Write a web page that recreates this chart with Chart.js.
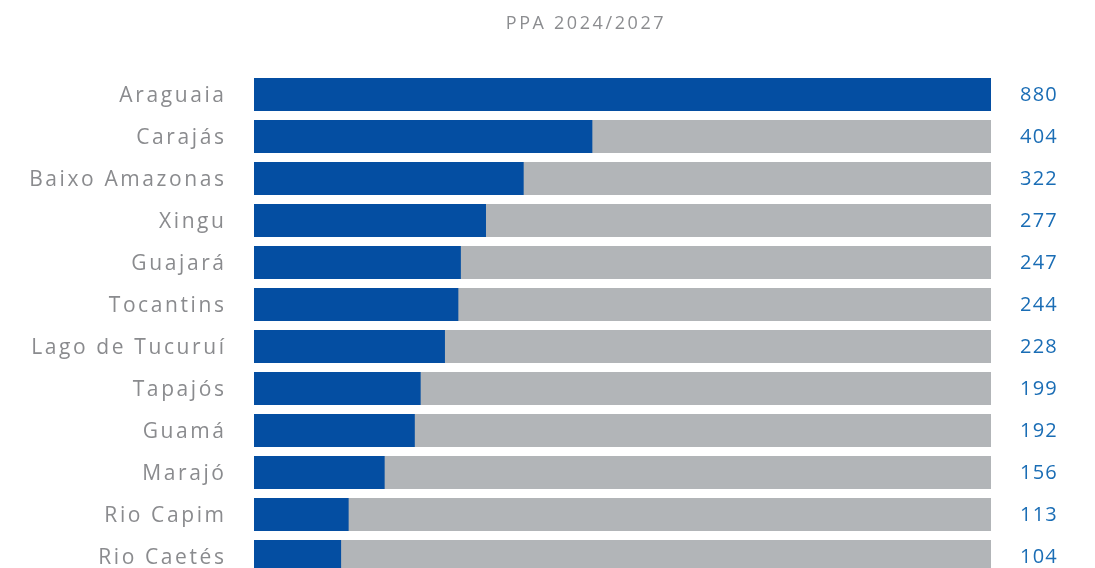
<!DOCTYPE html>
<html lang="pt-BR">
<head>
    <meta charset="UTF-8">
    <title>PPA 2024/2027</title>
    <script src="https://cdn.jsdelivr.net/npm/chart.js"></script>
    <style>
        html, body { margin: 0; padding: 0; background: #fff; overflow: hidden; }
        #wrap { position: relative; width: 1095px; height: 600px; }
        #title {
            position: absolute; left: 0; width: 1172px; top: 10px; margin: 0;
            text-align: center; font: 400 18px "Open Sans", sans-serif; color: #8c8d90; letter-spacing: 2.6px;
        }
        canvas { display: block; }
    </style>
</head>
<body>
    <div id="wrap">
        <h1 id="title">PPA 2024/2027</h1>
        <canvas id="chart" width="1095" height="600"></canvas>
    </div>

    <script>
        const regions = ['Araguaia', 'Carajás', 'Baixo Amazonas', 'Xingu', 'Guajará', 'Tocantins',
            'Lago de Tucuruí', 'Tapajós', 'Guamá', 'Marajó', 'Rio Capim', 'Rio Caetés'];
        const values = [880, 404, 322, 277, 247, 244, 228, 199, 192, 156, 113, 104];
        const totals = [880, 880, 880, 880, 880, 880, 880, 880, 880, 880, 880, 880];

        // region names on the left, numbers on the right (drawn by hand for the letter spacing)
        const sideLabels = {
            id: 'sideLabels',
            afterDatasetsDraw(chart) {
                const { ctx, chartArea, scales } = chart;
                ctx.save();
                ctx.textBaseline = 'alphabetic';

                ctx.fillStyle = '#8a8b8e';
                ctx.font = '400 21px "Open Sans", sans-serif';
                ctx.letterSpacing = '2.6px';
                ctx.textAlign = 'right';
                regions.forEach((name, i) => {
                    ctx.fillText(name, chartArea.left - 30 + 2.6, scales.y.getPixelForValue(i) + 7);
                });

                ctx.fillStyle = '#1a6db5';
                ctx.font = '400 20px "Open Sans", sans-serif';
                ctx.letterSpacing = '1.2px';
                ctx.textAlign = 'left';
                values.forEach((v, i) => {
                    ctx.fillText(v, chartArea.right + 29, scales.y.getPixelForValue(i) + 6.5);
                });
                ctx.restore();
            }
        };

        new Chart(document.getElementById('chart').getContext('2d'), {
            type: 'bar',
            data: {
                labels: regions,
                datasets: [
                    { label: 'Valor', data: values, backgroundColor: '#044ea2', order: 1 },
                    { label: 'Total', data: totals, backgroundColor: '#b2b5b8', order: 2 }
                ]
            },
            options: {
                indexAxis: 'y',
                responsive: false,
                animation: false,
                datasets: { bar: { grouped: false, categoryPercentage: 1, barPercentage: 0.786 } },
                layout: { padding: { top: 73.5, right: 104, bottom: 22.5, left: 0 } },
                plugins: { legend: { display: false }, tooltip: { enabled: false }, title: { display: false } },
                scales: {
                    x: { display: false, min: 0, max: 880 },
                    y: {
                        grid: { display: false, drawTicks: false },
                        border: { display: false },
                        afterFit(scale) { scale.width = 254; },
                        ticks: { display: false }
                    }
                }
            },
            plugins: [sideLabels]
        });
    </script>
</body>
</html>
